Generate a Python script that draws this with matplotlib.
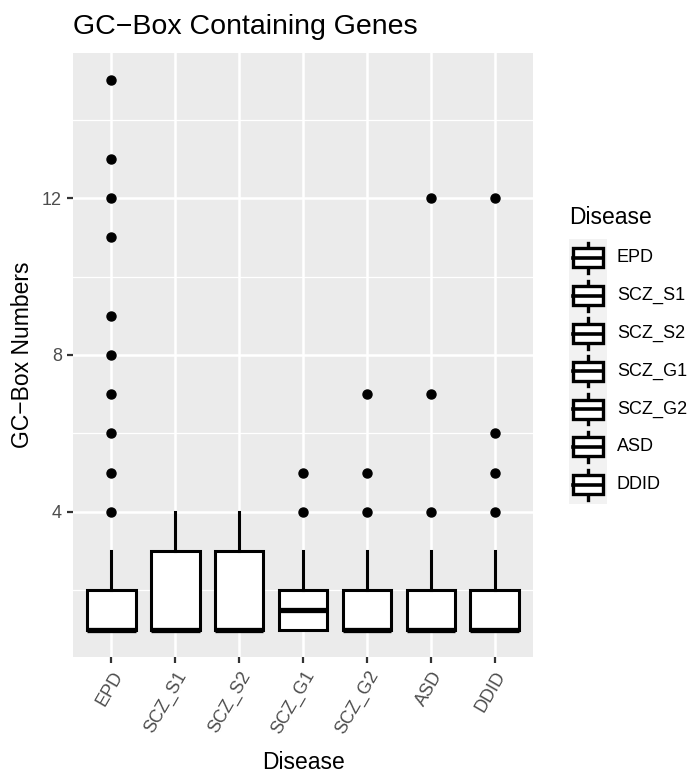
import matplotlib
matplotlib.use("Agg")
import matplotlib.pyplot as plt
from matplotlib.patches import Rectangle
from matplotlib.lines import Line2D

plt.rcParams["font.family"] = ["Liberation Sans", "DejaVu Sans"]

categories = ["EPD", "SCZ_S1", "SCZ_S2", "SCZ_G1", "SCZ_G2", "ASD", "DDID"]
q1 = [1, 1, 1, 1, 1, 1, 1]
med = [1, 1, 1, 1.5, 1, 1, 1]
q3 = [2, 3, 3, 2, 2, 2, 2]
whislo = [1, 1, 1, 1, 1, 1, 1]
whishi = [3, 4, 4, 3, 3, 3, 3]
fliers = [
    [4, 5, 6, 7, 8, 9, 11, 12, 13, 15],
    [],
    [],
    [4, 5],
    [4, 5, 7],
    [4, 7, 12],
    [4, 5, 6, 12],
]
yticks = [4, 8, 12]
yminor = [2, 6, 10, 14]

W, H = 699, 773
fig = plt.figure(figsize=(W / 100, H / 100), dpi=100)
fig.patch.set_facecolor("white")
L, R, T, B = 73, 533, 53, 657
ax = fig.add_axes([L / W, 1 - B / H, (R - L) / W, (B - T) / H])
ax.set_facecolor("#EBEBEB")
for s in ax.spines.values():
    s.set_visible(False)

stats = []
for i, c in enumerate(categories):
    stats.append(dict(label=c, q1=q1[i], med=med[i], q3=q3[i],
                      whislo=whislo[i], whishi=whishi[i], fliers=fliers[i]))

pos = list(range(1, len(categories) + 1))
ax.bxp(stats, positions=pos, widths=0.76, patch_artist=True, showcaps=False,
       boxprops=dict(facecolor="white", edgecolor="black", linewidth=2.2),
       medianprops=dict(color="black", linewidth=3.8, solid_capstyle="butt"),
       whiskerprops=dict(color="black", linewidth=2.2),
       flierprops=dict(marker="o", markerfacecolor="black", markeredgecolor="black",
                       markersize=6.5, linestyle="none"),
       zorder=3)

ax.set_xlim(0.4, 7.6)
ax.set_ylim(0.3, 15.7)
ax.set_yticks(yticks)
ax.set_yticks(yminor, minor=True)
ax.set_xticks(pos)
ax.set_xticklabels(categories, rotation=60, ha="right", va="top",
                   rotation_mode="anchor", color="#4D4D4D", fontsize=13)
ax.set_yticklabels([str(t) for t in yticks], color="#4D4D4D", fontsize=13)
ax.tick_params(axis="both", which="major", length=4, width=1.6, color="#333333", pad=4)
ax.tick_params(axis="y", which="minor", length=0)
ax.grid(which="major", color="white", linewidth=1.8)
ax.grid(which="minor", axis="y", color="white", linewidth=0.9)
ax.set_axisbelow(True)

ax.set_xlabel("Disease", fontsize=16.5, labelpad=10)
ax.set_ylabel("GC\u2212Box Numbers", fontsize=16.5, labelpad=6)
fig.text(L / W, 1 - 34 / H, "GC\u2212Box Containing Genes", fontsize=20.5,
         ha="left", va="baseline")

# legend
lx0, lx1 = 569, 607
top, step = 239, 37.8
fig.text(lx0 / W, 1 - 218 / H, "Disease", fontsize=16.5, ha="left", va="center")
fig.add_artist(Rectangle((lx0 / W, 1 - (top + 7 * step) / H), (lx1 - lx0) / W,
                         7 * step / H, transform=fig.transFigure,
                         facecolor="#F2F2F2", edgecolor="none"))
kw = lx1 - lx0
cx = (lx0 + lx1) / 2
bw, bh = 0.8 * kw, 0.5 * step
for i, c in enumerate(categories):
    cy = top + step * (i + 0.5)
    fig.add_artist(Line2D([cx / W, cx / W], [1 - (cy - 0.4 * step) / H, 1 - (cy + 0.4 * step) / H],
                          transform=fig.transFigure, color="black", linewidth=2.4))
    fig.add_artist(Rectangle(((cx - bw / 2) / W, 1 - (cy + bh / 2) / H), bw / W, bh / H,
                             transform=fig.transFigure, facecolor="white",
                             edgecolor="black", linewidth=2.4, zorder=3))
    fig.add_artist(Line2D([(cx - bw / 2) / W, (cx + bw / 2) / W], [1 - cy / H, 1 - cy / H],
                          transform=fig.transFigure, color="black", linewidth=2.6, zorder=4))
    fig.text(617 / W, 1 - cy / H, c, fontsize=13, ha="left", va="center")

fig.savefig("out.png", dpi=100)
